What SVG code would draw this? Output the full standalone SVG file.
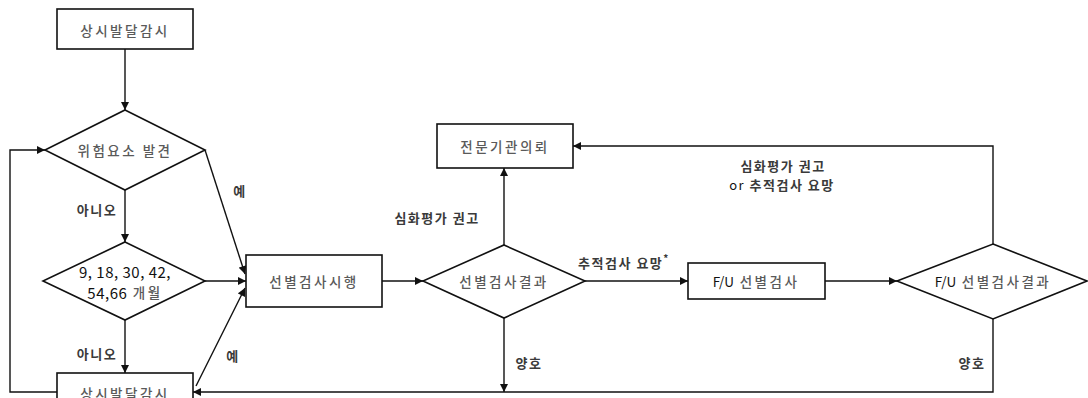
<svg xmlns="http://www.w3.org/2000/svg" width="1088" height="398" viewBox="0 0 1088 398">
<style>
.n{fill:#fff;stroke:#111;stroke-width:1.6}
.c{fill:none;stroke:#111;stroke-width:1.4}
.t{font-family:"Noto Sans CJK KR","Noto Sans",sans-serif;font-size:13.5px;fill:#5a5a5a;font-weight:500;letter-spacing:2.5px;text-anchor:middle;dominant-baseline:central}
.l{font-family:"Noto Sans CJK KR","Noto Sans",sans-serif;font-size:13px;fill:#3a3a3a;font-weight:bold;letter-spacing:1.5px;text-anchor:middle;dominant-baseline:central}
</style>
<defs>
<marker id="a" viewBox="0 0 10 10" refX="10" refY="5" markerWidth="10" markerHeight="8" markerUnits="userSpaceOnUse" orient="auto"><path d="M0,0 L10,5 L0,10 z" fill="#111"/></marker>
</defs>
<g id="connectors">
<line class="c" x1="125" y1="49" x2="125" y2="110" marker-end="url(#a)"/>
<polyline class="c" points="57,392 10,392 10,150 45,150" marker-end="url(#a)"/>
<line class="c" x1="125" y1="190" x2="125" y2="242" marker-end="url(#a)"/>
<line class="c" x1="125" y1="320" x2="125" y2="373" marker-end="url(#a)"/>
<line class="c" x1="205" y1="150" x2="245" y2="274" marker-end="url(#a)"/>
<line class="c" x1="205" y1="281" x2="246" y2="281" marker-end="url(#a)"/>
<line class="c" x1="196" y1="386" x2="245" y2="288" marker-end="url(#a)"/>
<line class="c" x1="382" y1="281" x2="423" y2="281" marker-end="url(#a)"/>
<line class="c" x1="504" y1="245" x2="504" y2="168" marker-end="url(#a)"/>
<line class="c" x1="585" y1="281" x2="688" y2="281" marker-end="url(#a)"/>
<line class="c" x1="504" y1="318" x2="504" y2="392" marker-end="url(#a)"/>
<line class="c" x1="825" y1="281" x2="897" y2="281" marker-end="url(#a)"/>
<polyline class="c" points="993,244 993,146 573,146" marker-end="url(#a)"/>
<polyline class="c" points="993,319 993,392 193,392" marker-end="url(#a)"/>
<text class="l" x="97" y="209">아니오</text>
<text class="l" x="97" y="353">아니오</text>
<text class="l" x="240" y="190">예</text>
<text class="l" x="233" y="355">예</text>
<text class="l" x="437" y="217">심화평가 권고</text>
<text class="l" x="624" y="262">추적검사 요망<tspan dy="-5" font-size="10">*</tspan></text>
<text class="l" x="529" y="362">양호</text>
<text class="l" x="972" y="362">양호</text>
<text class="l" x="783" y="165">심화평가 권고</text>
<text class="l" x="782" y="184"><tspan fill="#111" font-weight="normal">or</tspan> 추적검사 요망</text>
</g>
<g id="n1"><rect class="n" x="57" y="9" width="136" height="40"/><text class="t" x="125" y="30">상시발달감시</text></g>
<g id="n2"><polygon class="n" points="125,110 205,150 125,190 45,150"/><text class="t" x="125" y="150">위험요소 발견</text></g>
<g id="n3"><polygon class="n" points="125,242 205,281 125,320 43,281"/><text class="t" x="125" y="271"><tspan fill="#111" font-size="15" font-weight="normal" letter-spacing="0.5">9, 18, 30, 42,</tspan></text><text class="t" x="125" y="292"><tspan fill="#111" font-size="15" font-weight="normal" letter-spacing="0.5">54,66</tspan> 개월</text></g>
<g id="n4"><rect class="n" x="57" y="373" width="136" height="40"/><text class="t" x="125" y="393">상시발달감시</text></g>
<g id="n5"><rect class="n" x="246" y="255" width="136" height="52"/><text class="t" x="314" y="281">선별검사시행</text></g>
<g id="n6"><polygon class="n" points="504,245 585,281 504,318 423,281"/><text class="t" x="504" y="281">선별검사결과</text></g>
<g id="n7"><rect class="n" x="437" y="124" width="136" height="44"/><text class="t" x="505" y="146">전문기관의뢰</text></g>
<g id="n8"><rect class="n" x="688" y="263" width="137" height="36"/><text class="t" x="756" y="281"><tspan fill="#111" font-weight="normal" letter-spacing="0">F/U</tspan> 선별검사</text></g>
<g id="n9"><polygon class="n" points="993,244 1087,281 993,319 897,281"/><text class="t" x="993" y="281"><tspan fill="#111" font-weight="normal" letter-spacing="0">F/U</tspan> 선별검사결과</text></g>
</svg>
